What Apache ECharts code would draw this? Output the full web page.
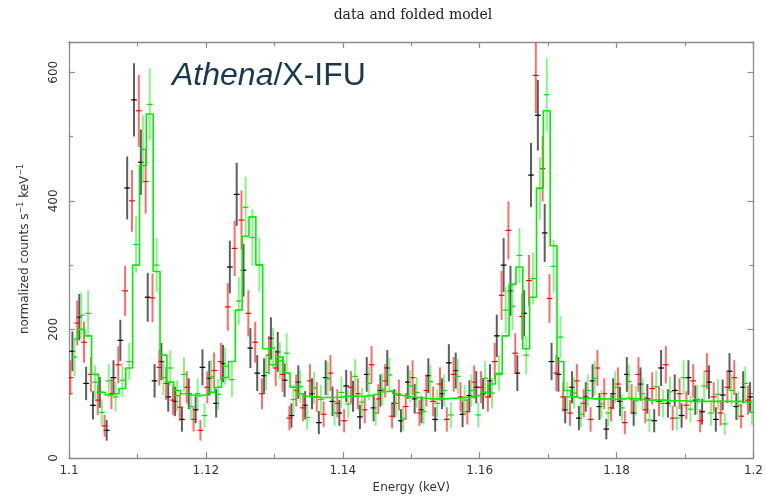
<!DOCTYPE html>
<html>
<head>
<meta charset="utf-8">
<script src="https://cdn.jsdelivr.net/npm/echarts@6/dist/echarts.min.js"></script>
<style>
  html, body { margin: 0; padding: 0; background: #ffffff; }
  #chart { width: 766px; height: 499px; }
</style>
</head>
<body>
<div id="chart"></div>
<script>
// Bin centres (keV) of the three spectra
const blackEnergy = [
  1.1005, 1.1015, 1.1025, 1.1035, 1.1045, 1.1055, 1.1065, 1.1075, 1.1085, 1.1095,
  1.1105, 1.1115, 1.1125, 1.1135, 1.1145, 1.1155, 1.1165, 1.1175, 1.1185, 1.1195,
  1.1205, 1.1215, 1.1225, 1.1235, 1.1245, 1.1255, 1.1265, 1.1275, 1.1285, 1.1295,
  1.1305, 1.1315, 1.1325, 1.1335, 1.1345, 1.1355, 1.1365, 1.1375, 1.1385, 1.1395,
  1.1405, 1.1415, 1.1425, 1.1435, 1.1445, 1.1455, 1.1465, 1.1475, 1.1485, 1.1495,
  1.1505, 1.1515, 1.1525, 1.1535, 1.1545, 1.1555, 1.1565, 1.1575, 1.1585, 1.1595,
  1.1605, 1.1615, 1.1625, 1.1635, 1.1645, 1.1655, 1.1665, 1.1675, 1.1685, 1.1695,
  1.1705, 1.1715, 1.1725, 1.1735, 1.1745, 1.1755, 1.1765, 1.1775, 1.1785, 1.1795,
  1.1805, 1.1815, 1.1825, 1.1835, 1.1845, 1.1855, 1.1865, 1.1875, 1.1885, 1.1895,
  1.1905, 1.1915, 1.1925, 1.1935, 1.1945, 1.1955, 1.1965, 1.1975, 1.1985, 1.1995
];
const redEnergy = [
  1.1002, 1.1012, 1.1022, 1.1032, 1.1042, 1.1052, 1.1062, 1.1072, 1.1082, 1.1092,
  1.1102, 1.1112, 1.1122, 1.1132, 1.1142, 1.1152, 1.1162, 1.1172, 1.1182, 1.1192,
  1.1202, 1.1212, 1.1222, 1.1232, 1.1242, 1.1252, 1.1262, 1.1272, 1.1282, 1.1292,
  1.1302, 1.1312, 1.1322, 1.1332, 1.1342, 1.1352, 1.1362, 1.1372, 1.1382, 1.1392,
  1.1402, 1.1412, 1.1422, 1.1432, 1.1442, 1.1452, 1.1462, 1.1472, 1.1482, 1.1492,
  1.1502, 1.1512, 1.1522, 1.1532, 1.1542, 1.1552, 1.1562, 1.1572, 1.1582, 1.1592,
  1.1602, 1.1612, 1.1622, 1.1632, 1.1642, 1.1652, 1.1662, 1.1672, 1.1682, 1.1692,
  1.1702, 1.1712, 1.1722, 1.1732, 1.1742, 1.1752, 1.1762, 1.1772, 1.1782, 1.1792,
  1.1802, 1.1812, 1.1822, 1.1832, 1.1842, 1.1852, 1.1862, 1.1872, 1.1882, 1.1892,
  1.1902, 1.1912, 1.1922, 1.1932, 1.1942, 1.1952, 1.1962, 1.1972, 1.1982, 1.1992
];
const greenEnergy = [
  1.1008, 1.1018, 1.1028, 1.1038, 1.1048, 1.1058, 1.1068, 1.1078, 1.1088, 1.1098,
  1.1108, 1.1118, 1.1128, 1.1138, 1.1148, 1.1158, 1.1168, 1.1178, 1.1188, 1.1198,
  1.1208, 1.1218, 1.1228, 1.1238, 1.1248, 1.1258, 1.1268, 1.1278, 1.1288, 1.1298,
  1.1308, 1.1318, 1.1328, 1.1338, 1.1348, 1.1358, 1.1368, 1.1378, 1.1388, 1.1398,
  1.1408, 1.1418, 1.1428, 1.1438, 1.1448, 1.1458, 1.1468, 1.1478, 1.1488, 1.1498,
  1.1508, 1.1518, 1.1528, 1.1538, 1.1548, 1.1558, 1.1568, 1.1578, 1.1588, 1.1598,
  1.1608, 1.1618, 1.1628, 1.1638, 1.1648, 1.1658, 1.1668, 1.1678, 1.1688, 1.1698,
  1.1708, 1.1718, 1.1728, 1.1738, 1.1748, 1.1758, 1.1768, 1.1778, 1.1788, 1.1798,
  1.1808, 1.1818, 1.1828, 1.1838, 1.1848, 1.1858, 1.1868, 1.1878, 1.1888, 1.1898,
  1.1908, 1.1918, 1.1928, 1.1938, 1.1948, 1.1958, 1.1968, 1.1978, 1.1988, 1.1998
];

// Normalized count rates (counts s^-1 keV^-1) and 1-sigma errors
const blackRate = [
  166, 219, 116, 82, 102, 43, 125, 183, 420, 557,
  460, 250, 120, 150, 95, 88, 60, 100, 75, 141,
  124, 85, 147, 297, 410, 292, 171, 132, 128, 186,
  165, 121, 66, 118, 82, 100, 55, 125, 88, 70,
  112, 96, 64, 130, 78, 105, 140, 85, 58, 118,
  92, 75, 128, 60, 100, 148, 136, 68, 97, 110,
  100, 120, 190, 300, 260, 132, 225, 440, 533, 350,
  150, 130, 75, 110, 62, 95, 120, 80, 45, 100,
  88, 130, 70, 115, 92, 58, 140, 85, 105, 66,
  125, 90, 72, 118, 60, 98, 135, 80, 110, 95
];
const blackErr = [
  31, 36, 26, 22, 24, 16, 27, 32, 49, 57,
  51, 38, 26, 29, 23, 23, 19, 24, 21, 28,
  27, 22, 29, 41, 49, 41, 31, 28, 27, 33,
  31, 26, 19, 26, 22, 24, 18, 27, 23, 20,
  25, 24, 19, 27, 21, 25, 28, 22, 18, 26,
  23, 21, 27, 19, 24, 29, 28, 20, 24, 25,
  24, 26, 33, 42, 39, 28, 36, 50, 55, 45,
  29, 27, 21, 25, 19, 23, 26, 21, 16, 24,
  23, 27, 20, 26, 23, 18, 28, 22, 25, 19,
  27, 23, 20, 26, 19, 24, 28, 21, 25, 23
];
const redRate = [
  125, 210, 180, 130, 90, 50, 100, 145, 260, 400,
  540, 430, 249, 141, 116, 90, 79, 110, 60, 43,
  110, 136, 150, 235, 326, 370, 225, 180, 100, 160,
  140, 130, 62, 105, 78, 120, 95, 68, 132, 85,
  58, 110, 100, 75, 145, 92, 120, 65, 98, 80,
  125, 70, 105, 88, 115, 60, 130, 95, 72, 118,
  110, 95, 150, 253, 354, 163, 220, 276, 595, 450,
  248, 132, 95, 70, 120, 85, 60, 140, 100, 78,
  115, 55, 92, 130, 75, 108, 88, 145, 62, 100,
  82, 120, 58, 135, 95, 70, 110, 125, 65, 90
];
const redErr = [
  27, 35, 32, 27, 23, 17, 24, 29, 39, 48,
  56, 50, 38, 28, 26, 23, 21, 25, 19, 16,
  25, 28, 29, 37, 43, 46, 36, 32, 24, 30,
  28, 27, 19, 25, 21, 26, 23, 20, 28, 22,
  18, 25, 24, 21, 29, 23, 26, 19, 24, 21,
  27, 20, 25, 23, 26, 19, 27, 23, 20, 26,
  25, 23, 29, 38, 45, 31, 36, 40, 59, 51,
  38, 28, 23, 20, 26, 22, 19, 28, 24, 21,
  26, 18, 23, 27, 21, 25, 23, 29, 19, 24,
  22, 26, 18, 28, 23, 20, 25, 27, 19, 23
];
const greenRate = [
  157, 222, 225, 118, 71, 120, 95, 121, 150, 332,
  480, 550, 300, 125, 140, 97, 130, 80, 100, 66,
  126, 99, 143, 122, 244, 390, 343, 301, 133, 171,
  151, 163, 91, 111, 63, 109, 91, 123, 70, 102,
  84, 127, 87, 116, 70, 107, 129, 85, 61, 112,
  102, 72, 119, 85, 105, 67, 127, 90, 105, 67,
  124, 101, 132, 230, 236, 315, 160, 279, 419, 565,
  298, 188, 95, 101, 68, 105, 124, 84, 70, 110,
  78, 119, 89, 100, 59, 111, 85, 103, 62, 125,
  76, 91, 112, 70, 99, 53, 105, 82, 116, 71
];
const greenErr = [
  30, 36, 36, 26, 20, 26, 23, 26, 29, 44,
  53, 56, 42, 27, 28, 24, 27, 21, 24, 19,
  27, 24, 29, 27, 37, 47, 44, 42, 28, 31,
  29, 31, 23, 25, 19, 25, 23, 27, 20, 24,
  22, 27, 22, 26, 20, 25, 27, 22, 19, 25,
  24, 20, 26, 22, 25, 20, 27, 23, 25, 20,
  27, 24, 28, 36, 37, 43, 30, 40, 49, 57,
  41, 33, 23, 24, 20, 25, 27, 22, 20, 25,
  21, 26, 23, 24, 18, 25, 22, 24, 19, 27,
  21, 23, 25, 20, 24, 17, 25, 22, 26, 20
];
// Folded model evaluated on the green spectrum's bins
const modelRate = [
  185, 200, 190, 130, 102, 98, 100, 108, 140, 300,
  455, 535, 290, 160, 118, 105, 100, 98, 97, 98,
  102, 110, 125, 150, 230, 345, 375, 300, 170, 145,
  157, 132, 110, 100, 96, 95, 94, 94, 94, 95,
  96, 96, 96, 97, 99, 103, 104, 100, 97, 95,
  94, 93, 92, 92, 92, 93, 93, 94, 95, 97,
  102, 115, 130, 190, 270, 297, 170, 250, 420, 540,
  330, 150, 105, 95, 93, 93, 92, 92, 92, 91,
  92, 93, 92, 91, 90, 90, 90, 89, 89, 89,
  88, 88, 88, 88, 88, 88, 88, 88, 87, 87
];

// Axis ticks
const energyTicks = { min: 1.1, max: 1.2, step: 0.02 };
const rateTicks = { min: 0, max: 647, step: 200 };

const HALF_BIN = 0.00042;
const FRAME = '#8c8c8c';

function zipSpectrum(energy, rate, err) {
  return energy.map((e, i) => [e, rate[i], err[i]]);
}

// One error cross per bin: vertical 1-sigma bar plus horizontal bin-width bar
function errorBarRenderer(vColor, hColor) {
  return function (params, api) {
    const e = api.value(0), v = api.value(1), s = api.value(2);
    const hi = api.coord([e, v + s]);
    const lo = api.coord([e, v - s]);
    const l = api.coord([e - HALF_BIN, v]);
    const r = api.coord([e + HALF_BIN, v]);
    return {
      type: 'group',
      children: [
        { type: 'line', shape: { x1: hi[0], y1: hi[1], x2: lo[0], y2: lo[1] },
          style: { stroke: vColor, lineWidth: 2 } },
        { type: 'line', shape: { x1: l[0], y1: l[1], x2: r[0], y2: r[1] },
          style: { stroke: hColor, lineWidth: 1.2 } }
      ]
    };
  };
}

function spectrumSeries(name, energy, rate, err, vColor, hColor, z) {
  return {
    name: name,
    type: 'custom',
    xAxisIndex: 0,
    yAxisIndex: 0,
    clip: true,
    z: z,
    renderItem: errorBarRenderer(vColor, hColor),
    encode: { x: 0, y: 1 },
    data: zipSpectrum(energy, rate, err)
  };
}

const tickCommon = {
  axisLine: { show: true, onZero: false, lineStyle: { color: FRAME, width: 1.3 } },
  axisTick: { show: true, inside: true, length: 6, lineStyle: { color: FRAME, width: 1.2 } },
  minorTick: { show: true, inside: true, splitNumber: 2, length: 4, lineStyle: { color: FRAME, width: 1.2 } },
  splitLine: { show: false },
  minorSplitLine: { show: false }
};

const labelFont = { color: '#333', fontFamily: 'DejaVu Sans', fontSize: 12 };

const chart = echarts.init(document.getElementById('chart'), null, { renderer: 'canvas' });

chart.setOption({
  animation: false,
  backgroundColor: '#ffffff',
  grid: { left: 69, right: 10, top: 42, bottom: 41, containLabel: false },
  xAxis: [
    Object.assign({
      type: 'value', position: 'bottom',
      min: energyTicks.min, max: energyTicks.max, interval: energyTicks.step,
      axisLabel: Object.assign({ margin: 7, showMaxLabel: true, showMinLabel: true,
        formatter: v => String(Math.round(v * 1000) / 1000) }, labelFont),
      name: 'Energy (keV)', nameLocation: 'middle', nameGap: 23,
      nameTextStyle: { color: '#333', fontFamily: 'DejaVu Sans', fontSize: 12 }
    }, tickCommon),
    Object.assign({
      type: 'value', position: 'top',
      min: energyTicks.min, max: energyTicks.max, interval: energyTicks.step,
      axisLabel: { show: false }
    }, tickCommon)
  ],
  yAxis: [
    Object.assign({
      type: 'value', position: 'left',
      min: rateTicks.min, max: rateTicks.max, interval: rateTicks.step,
      axisLabel: Object.assign({ rotate: 90, margin: 9, showMaxLabel: false }, labelFont)
    }, tickCommon),
    Object.assign({
      type: 'value', position: 'right',
      min: rateTicks.min, max: rateTicks.max, interval: rateTicks.step,
      axisLabel: { show: false }
    }, tickCommon)
  ],
  graphic: [
    {
      type: 'text', x: 413, y: 15, silent: true,
      style: {
        text: 'data and folded model', textAlign: 'center', textVerticalAlign: 'middle',
        fontFamily: 'DejaVu Serif', fontSize: 14, fill: '#222'
      }
    },
    {
      type: 'text', x: 25, y: 249, rotation: Math.PI / 2, silent: true,
      style: {
        text: 'normalized counts s{sup|\u22121} keV{sup|\u22121}',
        textAlign: 'center', textVerticalAlign: 'middle',
        fontFamily: 'DejaVu Sans', fontSize: 12, lineHeight: 16, fill: '#333',
        rich: {
          sup: { fontFamily: 'DejaVu Sans', fontSize: 8, lineHeight: 8, verticalAlign: 'top', fill: '#333', color: '#333' }
        }
      }
    },
    {
      type: 'text', x: 172, y: 76, silent: true, z: 20,
      style: {
        text: '{i|Athena}/X-IFU', textAlign: 'left', textVerticalAlign: 'middle',
        fontFamily: 'Liberation Sans', fontSize: 32, fill: '#17384f',
        rich: {
          i: { fontFamily: 'Liberation Sans', fontSize: 32, fontStyle: 'italic', fill: '#17384f', color: '#17384f' }
        }
      }
    }
  ],
  series: [
    spectrumSeries('black', blackEnergy, blackRate, blackErr, 'rgba(40,40,40,0.75)', '#000000', 2),
    spectrumSeries('red', redEnergy, redRate, redErr, 'rgba(255,45,45,0.7)', '#ff0000', 3),
    spectrumSeries('green', greenEnergy, greenRate, greenErr, 'rgba(70,240,70,0.65)', '#00dd00', 4),
    {
      name: 'model',
      type: 'line',
      xAxisIndex: 0,
      yAxisIndex: 0,
      step: 'middle',
      symbol: 'none',
      showSymbol: false,
      clip: true,
      z: 6,
      lineStyle: { color: '#00ee00', width: 1.6 },
      data: greenEnergy.map((e, i) => [e, modelRate[i]])
    }
  ]
});
</script>
</body>
</html>
